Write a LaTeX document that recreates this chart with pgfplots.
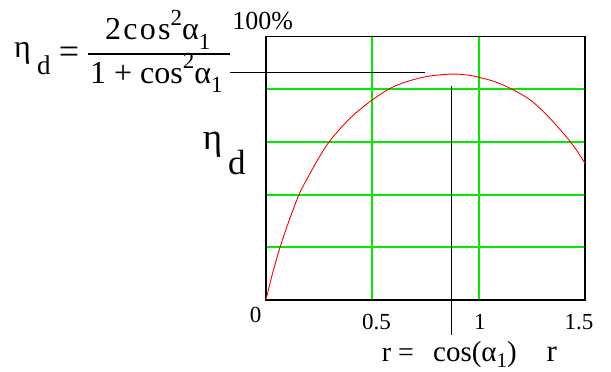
\documentclass[border=0pt]{standalone}
\usepackage{pgfplots}
\pgfplotsset{compat=1.18}
\usepackage{fontspec}
\setmainfont{Liberation Serif}

\definecolor{gridgreen}{RGB}{0,235,0}
\newcommand{\fs}[1]{\fontsize{#1}{#1}\selectfont}

\begin{document}
\begin{tikzpicture}[x=1pt,y=1pt]
\path[use as bounding box] (-266,-72) rectangle (345,300);
\begin{axis}[
  at={(0,0)}, anchor=south west,
  scale only axis, width=319pt, height=263.3pt,
  xmin=0, xmax=1.5, ymin=0, ymax=1,
  xtick={0.5,1}, ytick={0.2,0.4,0.6,0.8},
  xticklabels={}, yticklabels={},
  grid=major,
  grid style={gridgreen, line width=1.8pt},
  major grid style={gridgreen, line width=1.8pt},
  axis line style={line width=1.1pt},
  major tick length=0pt,
  clip=false,
]
% efficiency versus speed ratio r
\addplot[red, line width=0.9pt, smooth, tension=0.55] coordinates {
  (0,0) (0.02,0.067) (0.04,0.128) (0.066,0.2) (0.1,0.282) (0.155,0.4)
  (0.2,0.47) (0.25,0.542) (0.296,0.6) (0.35,0.652) (0.4,0.694) (0.45,0.729)
  (0.5,0.76) (0.575,0.8) (0.65,0.826) (0.75,0.848) (0.87,0.858)
  (0.95,0.854) (1.0,0.846) (1.08,0.828) (1.17,0.795) (1.25,0.755)
  (1.335,0.69) (1.437,0.595) (1.5,0.519)
};
% optimum point guides
\draw[black, line width=1pt] (axis cs:-0.169,0.865) -- (axis cs:0.748,0.865);
\draw[black, line width=1pt] (axis cs:0.87,0.813) -- (axis cs:0.87,-0.133);
% axis labels
\node[anchor=base, font=\fs{23}] at (axis cs:-0.049,-0.086) {0};
\node[anchor=base, font=\fs{23}] at (axis cs:0.52,-0.111) {0.5};
\node[anchor=base, font=\fs{23}] at (axis cs:1.006,-0.111) {1};
\node[anchor=base, font=\fs{23}] at (axis cs:1.472,-0.111) {1.5};
\node[anchor=base, font=\fs{26}] at (axis cs:-0.016,1.028) {100\%};
\node[anchor=base west, font=\fs{37}, inner sep=0pt] at (axis cs:-0.298,0.573) {η};
\node[anchor=base west, font=\fs{35}, inner sep=0pt] at (axis cs:-0.179,0.475) {d};
\node[anchor=base west, font=\fs{28}, inner sep=0pt] at (axis cs:0.544,-0.234) {r =};
\node[anchor=base west, font=\fs{29}, inner sep=0pt] at (axis cs:0.785,-0.234) {cos(α\raisebox{-0.22em}{\fs{21}1})};
\node[anchor=base west, font=\fs{31}, inner sep=0pt] at (axis cs:1.319,-0.234) {r};
\end{axis}
% design efficiency formula
\node[anchor=base west, inner sep=0pt, font=\fs{32}] at (-252,242) {η};
\node[anchor=base west, inner sep=0pt, font=\fs{27}] at (-229,225) {d};
\node[inner sep=0pt, font=\fs{36}] at (-197,245) {=};
\draw[line width=1.4pt] (-178,246) -- (-36,246);
\node[anchor=base west, inner sep=0pt, font=\fs{32}\addfontfeature{LetterSpace=7}] at (-161,260)
  {2cos\raisebox{0.45em}{\fs{23}2}α\raisebox{-0.3em}{\fs{23}1}};
\node[anchor=base west, inner sep=0pt, font=\fs{32}] at (-176,216.7)
  {1 + cos\raisebox{0.45em}{\fs{23}2}α\raisebox{-0.3em}{\fs{23}1}};
\end{tikzpicture}
\end{document}
